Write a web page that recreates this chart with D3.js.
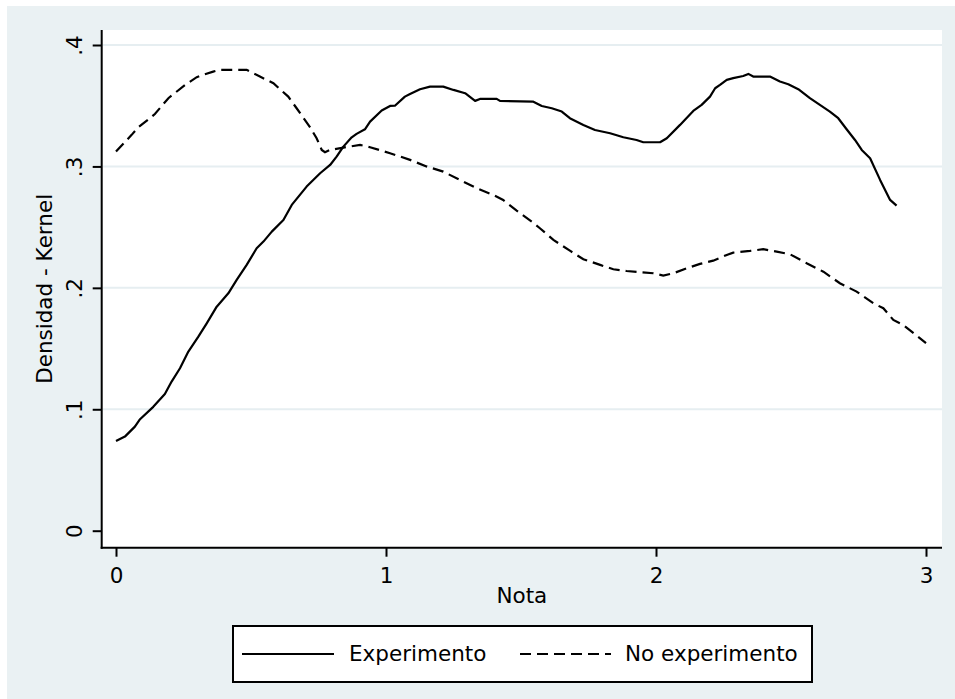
<!DOCTYPE html>
<html>
<head>
<meta charset="utf-8">
<script src="https://cdn.jsdelivr.net/npm/d3@7/dist/d3.min.js"></script>
<style>
  html, body { margin: 0; padding: 0; background: #ffffff; }
  svg { display: block; }
  text { font-family: "DejaVu Sans", sans-serif; fill: #000; }
</style>
</head>
<body>
<svg id="chart" width="955" height="699"></svg>
<script>
// Kernel density estimates of "Nota" for the two groups
const expX = [0, 0.033, 0.070, 0.089, 0.138, 0.181, 0.206, 0.237, 0.268, 0.305, 0.336, 0.373, 0.416, 0.447, 0.484, 0.521, 0.546, 0.577, 0.620, 0.651, 0.706, 0.756, 0.793, 0.817, 0.842, 0.873, 0.891, 0.922, 0.941, 0.984, 1.015, 1.033, 1.070, 1.089, 1.126, 1.163, 1.212, 1.250, 1.293, 1.330, 1.348, 1.410, 1.422, 1.544, 1.577, 1.614, 1.651, 1.681, 1.731, 1.774, 1.830, 1.879, 1.928, 1.953, 2.015, 2.040, 2.089, 2.138, 2.169, 2.200, 2.219, 2.237, 2.262, 2.286, 2.323, 2.342, 2.360, 2.422, 2.459, 2.490, 2.527, 2.570, 2.607, 2.644, 2.675, 2.706, 2.737, 2.762, 2.793, 2.830, 2.867, 2.891];
const expY = [0.0739, 0.0775, 0.0857, 0.0918, 0.1020, 0.1126, 0.1228, 0.1338, 0.1475, 0.1598, 0.1708, 0.1845, 0.1955, 0.2065, 0.2189, 0.2326, 0.2381, 0.2463, 0.2559, 0.2683, 0.2834, 0.2944, 0.3012, 0.3081, 0.3163, 0.3240, 0.3268, 0.3306, 0.3369, 0.3460, 0.3498, 0.3500, 0.3575, 0.3597, 0.3636, 0.3657, 0.3657, 0.3630, 0.3603, 0.3540, 0.3556, 0.3556, 0.3540, 0.3534, 0.3498, 0.3479, 0.3452, 0.3397, 0.3342, 0.3300, 0.3273, 0.3240, 0.3218, 0.3199, 0.3199, 0.3232, 0.3342, 0.3457, 0.3507, 0.3575, 0.3644, 0.3671, 0.3713, 0.3727, 0.3745, 0.3762, 0.3740, 0.3740, 0.3699, 0.3677, 0.3636, 0.3562, 0.3507, 0.3452, 0.3397, 0.3306, 0.3218, 0.3136, 0.3067, 0.2889, 0.2724, 0.2677];

const noX = [0, 0.058, 0.083, 0.126, 0.144, 0.194, 0.256, 0.299, 0.323, 0.360, 0.385, 0.484, 0.533, 0.583, 0.638, 0.669, 0.719, 0.743, 0.762, 0.774, 0.793, 0.842, 0.904, 0.941, 1.015, 1.089, 1.150, 1.212, 1.274, 1.336, 1.397, 1.434, 1.484, 1.540, 1.570, 1.620, 1.681, 1.731, 1.793, 1.842, 1.891, 1.990, 2.027, 2.064, 2.114, 2.163, 2.212, 2.262, 2.286, 2.348, 2.397, 2.447, 2.496, 2.558, 2.620, 2.681, 2.743, 2.805, 2.842, 2.879, 2.916, 3.0];
const noY = [0.3122, 0.3260, 0.3323, 0.3397, 0.3432, 0.3562, 0.3671, 0.3735, 0.3754, 0.3781, 0.3795, 0.3795, 0.3740, 0.3685, 0.3575, 0.3479, 0.3322, 0.3232, 0.3136, 0.3117, 0.3136, 0.3155, 0.3177, 0.3158, 0.3109, 0.3054, 0.3000, 0.2957, 0.2889, 0.2820, 0.2765, 0.2724, 0.2636, 0.2545, 0.2491, 0.2395, 0.2306, 0.2236, 0.2189, 0.2153, 0.2139, 0.2120, 0.2101, 0.2120, 0.2161, 0.2197, 0.2224, 0.2271, 0.2290, 0.2304, 0.2318, 0.2298, 0.2277, 0.2203, 0.2133, 0.2038, 0.1969, 0.1873, 0.1832, 0.1736, 0.1694, 0.1544];

const yTicks = [0, 0.1, 0.2, 0.3, 0.4];
const yTickLabels = ["0", ".1", ".2", ".3", ".4"];
const xTicks = [0, 1, 2, 3];
const xTickLabels = ["0", "1", "2", "3"];
const seriesNames = ["Experimento", "No experimento"];
const xTitle = "Nota";
const yTitle = "Densidad - Kernel";

const svg = d3.select("#chart");
const bg = "#eaf1f3";
const gridColor = "#e6eef1";
const fontSize = "21.5px";

// plot region box
const plot = { left: 101.7, right: 942, top: 30, bottom: 547.7 };

const x = d3.scaleLinear().domain([0, 3]).range([116, 926]);
const y = d3.scaleLinear().domain([0, 0.4]).range([530.7, 45]);

// graph region background
svg.append("rect").attr("x", 7).attr("y", 6).attr("width", 948).attr("height", 693).attr("fill", bg);
// plot region
svg.append("rect")
  .attr("x", plot.left).attr("y", plot.top)
  .attr("width", plot.right - plot.left).attr("height", plot.bottom - plot.top)
  .attr("fill", "#ffffff");

// horizontal grid lines (none at the axis minimum)
svg.append("g").selectAll("line")
  .data(yTicks.filter(d => d > 0))
  .join("line")
  .attr("x1", plot.left + 1).attr("x2", plot.right)
  .attr("y1", d => y(d)).attr("y2", d => y(d))
  .attr("stroke", gridColor).attr("stroke-width", 2);

// y axis
const yAxis = svg.append("g")
  .attr("transform", `translate(${plot.left},0)`)
  .call(d3.axisLeft(y).tickValues(yTicks).tickSize(9).tickSizeOuter(0)
    .tickFormat((d, i) => yTickLabels[i]));
yAxis.select(".domain").remove();
yAxis.selectAll(".tick line").attr("stroke", "#000").attr("stroke-width", 2);
yAxis.selectAll(".tick text")
  .attr("x", null).attr("dy", null)
  .attr("transform", "translate(-20,0) rotate(-90)")
  .attr("text-anchor", "middle")
  .style("font-size", fontSize);

// x axis
const xAxis = svg.append("g")
  .attr("transform", `translate(0,${plot.bottom})`)
  .call(d3.axisBottom(x).tickValues(xTicks).tickSize(9).tickPadding(11).tickSizeOuter(0)
    .tickFormat((d, i) => xTickLabels[i]));
xAxis.select(".domain").remove();
xAxis.selectAll(".tick line").attr("stroke", "#000").attr("stroke-width", 2);
xAxis.selectAll(".tick text").style("font-size", fontSize);

// axis lines
svg.append("line").attr("x1", plot.left).attr("x2", plot.left)
  .attr("y1", plot.top).attr("y2", plot.bottom + 1)
  .attr("stroke", "#000").attr("stroke-width", 2);
svg.append("line").attr("x1", plot.left - 1).attr("x2", plot.right)
  .attr("y1", plot.bottom).attr("y2", plot.bottom)
  .attr("stroke", "#000").attr("stroke-width", 2);

// axis titles
svg.append("text")
  .attr("x", (plot.left + plot.right) / 2).attr("y", 603)
  .attr("text-anchor", "middle").style("font-size", fontSize)
  .text(xTitle);
svg.append("text")
  .attr("transform", `translate(52,${(plot.top + plot.bottom) / 2}) rotate(-90)`)
  .attr("text-anchor", "middle").style("font-size", fontSize)
  .text(yTitle);

// density curves
const line = d3.line().x(d => x(d[0])).y(d => y(d[1]));
const expData = expX.map((v, i) => [v, expY[i]]);
const noData = noX.map((v, i) => [v, noY[i]]);
const dash = "11,6";

svg.append("path").datum(expData)
  .attr("d", line).attr("fill", "none")
  .attr("stroke", "#000").attr("stroke-width", 2.2).attr("stroke-linejoin", "round");
svg.append("path").datum(noData)
  .attr("d", line).attr("fill", "none")
  .attr("stroke", "#000").attr("stroke-width", 2.2).attr("stroke-dasharray", dash);

// legend
const legend = svg.append("g");
legend.append("rect")
  .attr("x", 233).attr("y", 626).attr("width", 579).attr("height", 56)
  .attr("fill", "#fff").attr("stroke", "#000").attr("stroke-width", 2);
const keys = [
  { x1: 242, x2: 334, tx: 349, dash: null },
  { x1: 520, x2: 611, tx: 625, dash: dash }
];
keys.forEach((k, i) => {
  legend.append("line")
    .attr("x1", k.x1).attr("x2", k.x2).attr("y1", 654).attr("y2", 654)
    .attr("stroke", "#000").attr("stroke-width", 2)
    .attr("stroke-dasharray", k.dash);
  legend.append("text")
    .attr("x", k.tx).attr("y", 661).style("font-size", fontSize)
    .text(seriesNames[i]);
});
</script>
</body>
</html>
